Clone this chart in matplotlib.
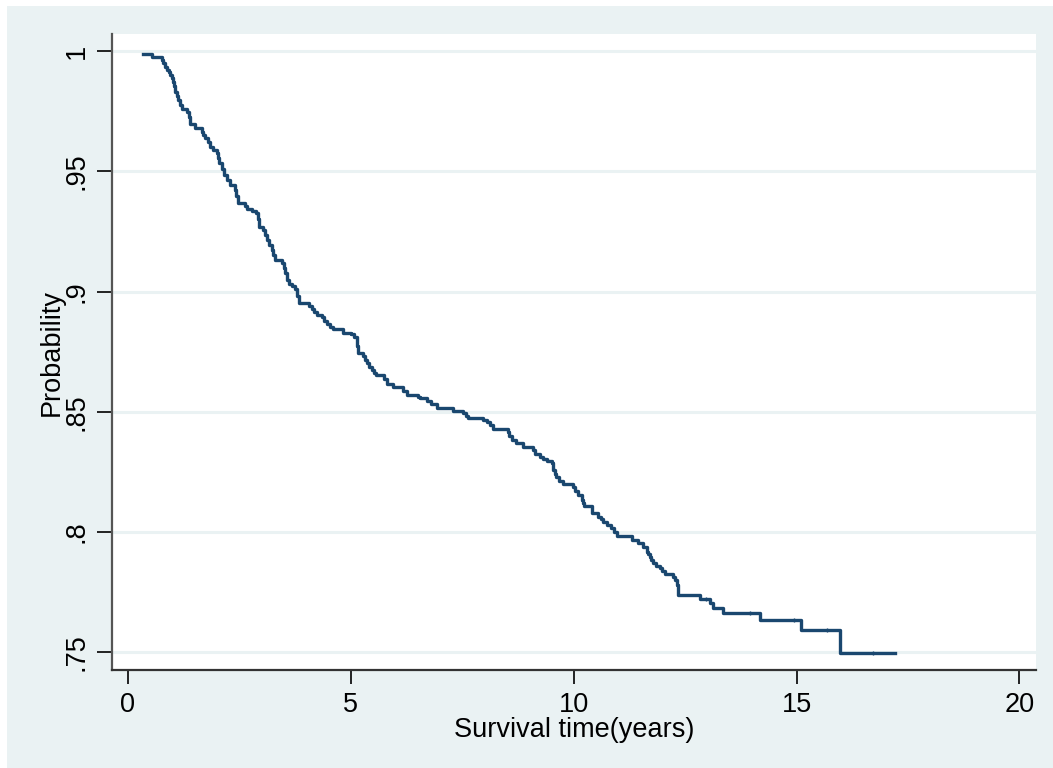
import numpy as np
import matplotlib
matplotlib.use("Agg")
import matplotlib.pyplot as plt
from matplotlib.patches import Rectangle

plt.rcParams['font.family'] = ['Liberation Sans', 'DejaVu Sans']

# Kaplan-Meier estimate: event times (years) and survival after each drop
times = [0.35, 0.55, 0.76, 0.80, 0.84, 0.88, 0.92, 0.95, 1.00, 1.02, 1.05, 1.06,
         1.10, 1.14, 1.17, 1.21, 1.33, 1.37, 1.41, 1.51, 1.66, 1.70, 1.74, 1.80,
         1.85, 1.92, 2.00, 2.03, 2.06, 2.11, 2.16, 2.23, 2.30, 2.41, 2.44, 2.48,
         2.63, 2.67, 2.79, 2.89, 2.93, 2.95, 3.04, 3.08, 3.12, 3.17, 3.23, 3.27,
         3.30, 3.46, 3.50, 3.53, 3.57, 3.62, 3.68, 3.75, 3.80, 3.85, 4.07, 4.13,
         4.18, 4.24, 4.37, 4.41, 4.46, 4.54, 4.60, 4.82, 5.02, 5.08, 5.14, 5.15,
         5.16, 5.28, 5.32, 5.36, 5.41, 5.47, 5.53, 5.57, 5.75, 5.81, 5.96, 6.18,
         6.26, 6.52, 6.56, 6.71, 6.80, 6.93, 7.30, 7.53, 7.59, 7.64, 7.98, 8.05,
         8.13, 8.19, 8.53, 8.56, 8.62, 8.71, 8.86, 9.08, 9.13, 9.25, 9.32, 9.40,
         9.51, 9.53, 9.55, 9.58, 9.61, 9.67, 9.76, 9.99, 10.03, 10.10, 10.18, 10.21,
         10.23, 10.41, 10.42, 10.55, 10.62, 10.66, 10.75, 10.85, 10.91, 10.98, 11.30, 11.44,
         11.56, 11.64, 11.68, 11.71, 11.74, 11.78, 11.85, 11.94, 11.99, 12.05, 12.23, 12.28,
         12.31, 12.35, 12.83, 13.06, 13.13, 13.36, 14.18, 15.10, 15.97, 17.21]
surv = [0.9988, 0.9976, 0.9963, 0.9949, 0.9933, 0.9921, 0.9911, 0.9900, 0.9886, 0.9872, 0.9854, 0.9831,
        0.9813, 0.9796, 0.9775, 0.9758, 0.9748, 0.9726, 0.9696, 0.9679, 0.9663, 0.9651, 0.9637, 0.9620,
        0.9602, 0.9588, 0.9575, 0.9555, 0.9533, 0.9509, 0.9484, 0.9464, 0.9443, 0.9422, 0.9397, 0.9369,
        0.9356, 0.9342, 0.9333, 0.9325, 0.9301, 0.9269, 0.9256, 0.9235, 0.9214, 0.9193, 0.9173, 0.9152,
        0.9131, 0.9117, 0.9098, 0.9076, 0.9048, 0.9033, 0.9023, 0.9009, 0.8981, 0.8951, 0.8940, 0.8926,
        0.8915, 0.8902, 0.8893, 0.8879, 0.8865, 0.8852, 0.8843, 0.8829, 0.8823, 0.8811, 0.8798, 0.8773,
        0.8746, 0.8732, 0.8715, 0.8701, 0.8688, 0.8674, 0.8663, 0.8653, 0.8636, 0.8615, 0.8602, 0.8586,
        0.8570, 0.8561, 0.8556, 0.8545, 0.8532, 0.8514, 0.8504, 0.8494, 0.8482, 0.8473, 0.8466, 0.8459,
        0.8445, 0.8427, 0.8417, 0.8399, 0.8383, 0.8371, 0.8352, 0.8339, 0.8324, 0.8312, 0.8303, 0.8296,
        0.8286, 0.8270, 0.8258, 0.8241, 0.8230, 0.8214, 0.8200, 0.8185, 0.8172, 0.8154, 0.8133, 0.8121,
        0.8108, 0.8091, 0.8078, 0.8064, 0.8054, 0.8043, 0.8029, 0.8015, 0.8000, 0.7985, 0.7967, 0.7953,
        0.7938, 0.7918, 0.7909, 0.7897, 0.7884, 0.7870, 0.7859, 0.7849, 0.7838, 0.7825, 0.7814, 0.7800,
        0.7780, 0.7738, 0.7720, 0.7704, 0.7683, 0.7662, 0.7634, 0.7592, 0.7498, 0.7498]

# censored observations shown as small ticks
cens_t = [12.98, 13.95, 14.94, 15.68, 16.71]
cens_s = [0.7720, 0.7662, 0.7634, 0.7592, 0.7498]

yticks = [0.75, 0.8, 0.85, 0.9, 0.95, 1.0]
ytick_labels = ['.75', '.8', '.85', '.9', '.95', '1']
xticks = [0, 5, 10, 15, 20]

bg = '#EAF2F3'
navy = '#1A476F'

fig = plt.figure(figsize=(10.53, 7.68), dpi=100, facecolor=bg)
# thin white margin on the left and top edges
fig.patches.append(Rectangle((0, 0), 7 / 1053, 1, transform=fig.transFigure,
                             facecolor='white', edgecolor='none'))
fig.patches.append(Rectangle((0, 1 - 6 / 768), 1, 6 / 768, transform=fig.transFigure,
                             facecolor='white', edgecolor='none'))

ax = fig.add_axes([112 / 1053, 98 / 768, 924 / 1053, 636 / 768])
ax.set_facecolor('white')

for y in yticks:
    ax.axhline(y, color=bg, linewidth=2.2, zorder=1)

ax.step(times, surv, where='post', color=navy, linewidth=2.4, zorder=3)
ax.plot(cens_t, cens_s, linestyle='none', marker='|', color=navy,
        markersize=3, markeredgewidth=1.0, zorder=4)

ax.set_xlim(-0.35, 20.37)
ax.set_ylim(0.7426, 1.0071)

ax.set_xticks(xticks)
ax.set_xticklabels([str(x) for x in xticks], fontsize=19.5)
ax.set_yticks(yticks)
ax.set_yticklabels(ytick_labels, fontsize=19.5, rotation=90, va='center')

ax.tick_params(axis='x', length=10, width=1.2, color='black', pad=6)
ax.tick_params(axis='y', length=11, width=1.2, color='black', pad=5)

for side in ['top', 'right']:
    ax.spines[side].set_visible(False)
ax.spines['left'].set_color('#555555')
ax.spines['left'].set_linewidth(1.6)
ax.spines['bottom'].set_color('#333333')
ax.spines['bottom'].set_linewidth(1.6)

ax.set_xlabel('Survival time(years)', fontsize=19.5, labelpad=-1)
ax.set_ylabel('Probability', fontsize=19.5, labelpad=-1)

fig.savefig('out.png', dpi=100, facecolor=fig.get_facecolor())
